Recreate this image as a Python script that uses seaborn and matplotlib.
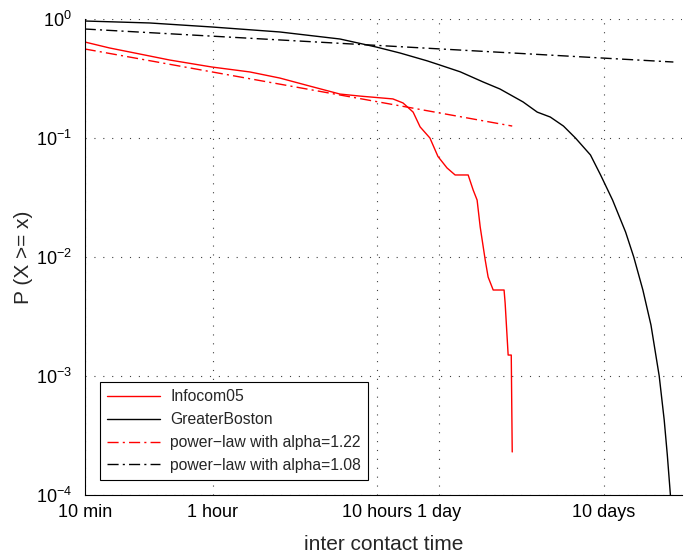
import numpy as np
import pandas as pd
import matplotlib
matplotlib.use("Agg")
import matplotlib.pyplot as plt
from matplotlib.ticker import FixedLocator, FixedFormatter, NullFormatter, LogLocator
import seaborn as sns

# inter contact time in hours, P(X >= x)
infocom_t = [0.166, 0.235, 0.359, 0.547, 0.986, 1.68, 2.56, 3.90, 5.95, 7.88, 12.5, 14.4,
             16.6, 18.3, 21.0, 23.5, 26.7, 29.9, 35.9, 38.5, 40.7, 42.5, 45.6, 47.5, 51.0,
             59.4, 60.3, 62.9, 65.7, 66.6]
infocom_p = [0.641, 0.571, 0.508, 0.452, 0.395, 0.359, 0.319, 0.273, 0.234, 0.225, 0.213, 0.197,
             0.165, 0.124, 0.100, 0.070, 0.0560, 0.0489, 0.0489, 0.0366, 0.0301, 0.0179, 0.00944,
             0.00679, 0.00528, 0.00528, 0.0041, 0.0015, 0.0015, 0.00023]

boston_t = [0.166, 0.413, 0.986, 2.56, 5.95, 9.87, 13.8, 20.2, 24.2, 32.1, 44.2, 56.1, 77.5,
            94.6, 113.6, 136.6, 161.6, 199.5, 229.9, 272, 326.5, 366, 416, 466, 523, 561, 586, 612]
boston_p = [0.962, 0.926, 0.857, 0.778, 0.679, 0.582, 0.518, 0.445, 0.41, 0.36, 0.296, 0.258,
            0.201, 0.165, 0.150, 0.126, 0.100, 0.072, 0.0489, 0.0301, 0.0162, 0.010, 0.00528,
            0.00268, 0.001, 0.000427, 0.000217, 0.0001]

fit1_t = [0.166, 66.6]
fit1_p = [0.56, 0.126]
fit2_t = [0.166, 638]
fit2_p = [0.824, 0.435]

tick_pos = [1 / 6, 1, 10, 24, 240]
tick_lab = ['10 min', '1 hour', '10 hours', '1 day', '10 days']
minor_pos = [20 / 60, 30 / 60, 40 / 60, 50 / 60, 2, 3, 4, 5, 6, 7, 8, 9, 20,
             48, 72, 96, 120, 144, 168, 192, 216, 480, 720]

sns.set_style("white")
plt.rcParams['font.family'] = ['Liberation Sans', 'DejaVu Sans']
plt.rcParams['mathtext.fontset'] = 'custom'
plt.rcParams['mathtext.rm'] = 'Liberation Sans'
plt.rcParams['mathtext.it'] = 'Liberation Sans:italic'

fig = plt.figure(figsize=(6.84, 5.55), dpi=100)
ax = fig.add_axes([85 / 684, 60 / 555, 597 / 684, 476 / 555])

dashdot = (0, (8, 3, 1.5, 3))
sns.lineplot(x=infocom_t, y=infocom_p, color='red', lw=1.0, label='Infocom05',
             estimator=None, sort=False, ax=ax)
sns.lineplot(x=boston_t, y=boston_p, color='black', lw=1.0, label='GreaterBoston',
             estimator=None, sort=False, ax=ax)
sns.lineplot(x=fit1_t, y=fit1_p, color='red', lw=1.0, linestyle=dashdot,
             label='power\u2212law with alpha=1.22', estimator=None, sort=False, ax=ax)
sns.lineplot(x=fit2_t, y=fit2_p, color='black', lw=1.0, linestyle=dashdot,
             label='power\u2212law with alpha=1.08', estimator=None, sort=False, ax=ax)

ax.set_xscale('log')
ax.set_yscale('log')
ax.set_xlim(1 / 6, 720)
ax.set_ylim(1e-4, 1)

ax.xaxis.set_major_locator(FixedLocator(tick_pos))
ax.xaxis.set_major_formatter(FixedFormatter(tick_lab))
ax.xaxis.set_minor_locator(FixedLocator(minor_pos))
ax.xaxis.set_minor_formatter(NullFormatter())
ax.yaxis.set_major_locator(LogLocator(base=10))
ax.yaxis.set_minor_locator(LogLocator(base=10, subs=np.arange(2, 10)))
ax.yaxis.set_minor_formatter(NullFormatter())

ax.tick_params(which='both', direction='in', top=False, right=False, colors='black',
               labelsize=13)
ax.tick_params(which='major', length=5, width=0.8)
ax.tick_params(which='minor', length=2.8, width=0.7)
ax.tick_params(axis='x', pad=6.5)
ax.tick_params(axis='y', pad=9.4)

ax.grid(True, which='major', color='0.25', linestyle=(0, (1, 7)), linewidth=0.8)
ax.grid(False, which='minor')

for s in ['top', 'right']:
    ax.spines[s].set_visible(False)
for s in ['left', 'bottom']:
    ax.spines[s].set_color('black')
    ax.spines[s].set_linewidth(0.8)

ax.set_xlabel('inter contact time', fontsize=15)
ax.set_ylabel('P (X >= x)', fontsize=15)
ax.xaxis.set_label_coords(0.5, (495 - 535) / 476)
ax.yaxis.set_label_coords((33 - 85) / 597, 0.5)

leg = ax.legend(loc='lower left', bbox_to_anchor=(15 / 597, 15 / 476), borderaxespad=0,
                frameon=True, fancybox=False, edgecolor='black', framealpha=1,
                fontsize=11.3, handlelength=3.4, handletextpad=0.64,
                labelspacing=0.5, borderpad=0.45)
leg.get_frame().set_linewidth(0.8)

fig.savefig('out.png', dpi=100)
